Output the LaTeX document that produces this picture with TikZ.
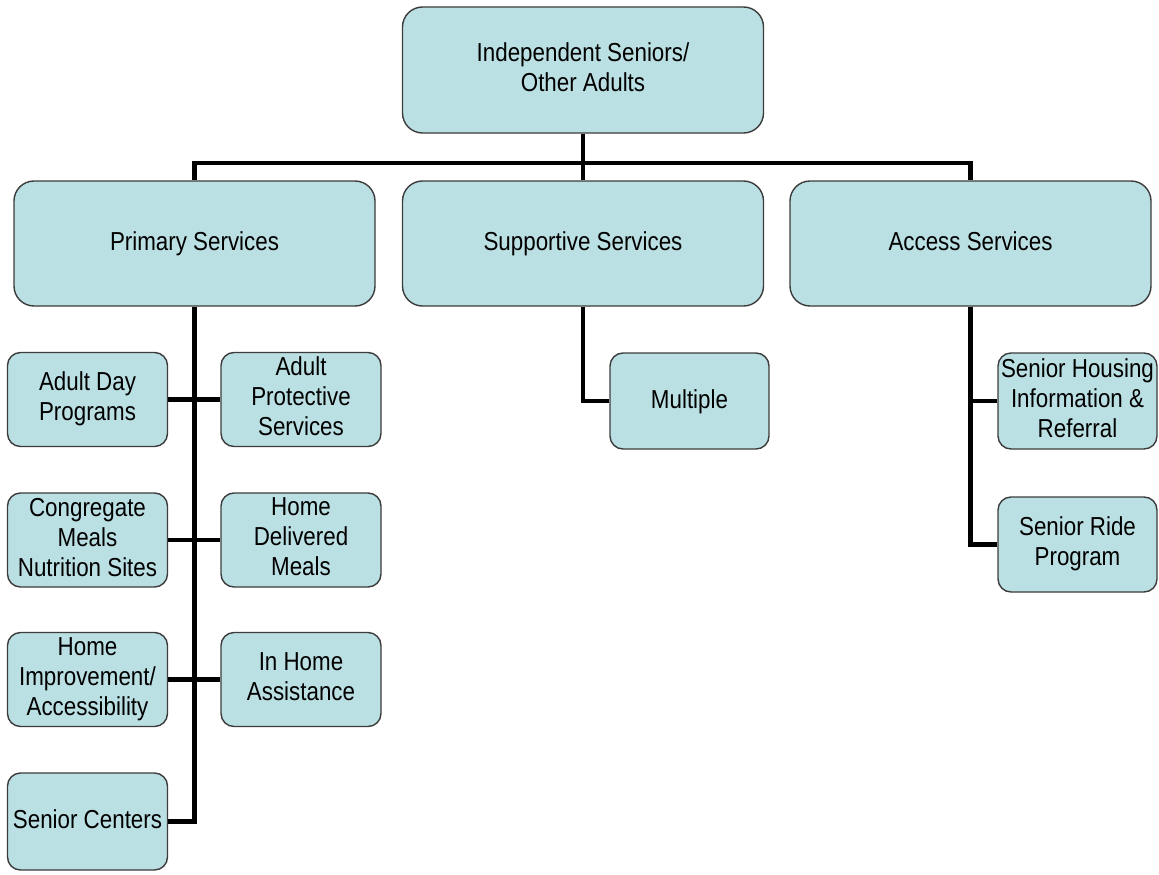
\documentclass[tikz,border=0pt]{standalone}
\usepackage{fontspec}
\setmainfont{Liberation Sans}[FakeStretch=0.86]
\definecolor{boxfill}{RGB}{187,224,227}
\definecolor{boxline}{RGB}{60,60,60}
\newcommand\boxstrut{\rule[-6pt]{0pt}{26pt}}
\begin{document}
\begin{tikzpicture}[x=1pt,y=-1pt,
  base/.style={draw=boxline,line width=1.4pt,fill=boxfill,align=center,inner sep=0pt,
    font=\fontsize{26}{30}\selectfont,
    execute at begin node=\boxstrut, execute at end node=\boxstrut},
  bigbox/.style={base,rounded corners=20pt,minimum width=361pt,minimum height=125pt},
  smallbox/.style={base,rounded corners=13pt,minimum width=160pt,minimum height=94pt},
  conn/.style={line width=4.3pt,black}]
\useasboundingbox[fill=white] (0,0) rectangle (1159,875);
% top level
\node[bigbox,minimum height=126pt] (top) at (583,70) {Independent Seniors/\\Other Adults};
% second level
\node[bigbox] (prim) at (194.5,243.5) {Primary Services};
\node[bigbox] (supp) at (583,243.5) {Supportive Services};
\node[bigbox] (acc) at (970.5,243.5) {Access Services};
% primary children
\node[smallbox] (adp) at (87.5,399.5) {Adult Day\\Programs};
\node[smallbox] (aps) at (301,399.5) {Adult\\Protective\\Services};
\node[smallbox] (cmn) at (87.5,540) {Congregate\\Meals\\Nutrition Sites};
\node[smallbox] (hdm) at (301,540) {Home\\Delivered\\Meals};
\node[smallbox] (hia) at (87.5,679.5) {Home\\Improvement/\\Accessibility};
\node[smallbox] (iha) at (301,679.5) {In Home\\Assistance};
\node[smallbox,minimum height=97pt] (sc) at (87.5,821.5) {Senior Centers};
% supportive child
\node[smallbox,minimum width=159pt,minimum height=96pt] (mult) at (689.5,401) {Multiple};
% access children
\node[smallbox,minimum width=159pt,minimum height=96pt] (shir) at (1077.5,401) {Senior Housing\\Information \&\\Referral};
\node[smallbox,minimum width=159pt,minimum height=95pt] (srp) at (1077.5,544.5) {Senior Ride\\Program};
% connectors
\coordinate (bus) at (583,163);
\draw[conn] (top.south) -- (supp.north);
\draw[conn] (prim.north) |- (bus) -| (acc.north);
\draw[conn] (prim.south) |- (sc.east);
\draw[conn] (adp.east) -- (aps.west);
\draw[conn] (cmn.east) -- (hdm.west);
\draw[conn] (hia.east) -- (iha.west);
\draw[conn] (supp.south) |- (mult.west);
\draw[conn] (acc.south) |- (shir.west);
\draw[conn] (acc.south) |- (srp.west);
\end{tikzpicture}
\end{document}
